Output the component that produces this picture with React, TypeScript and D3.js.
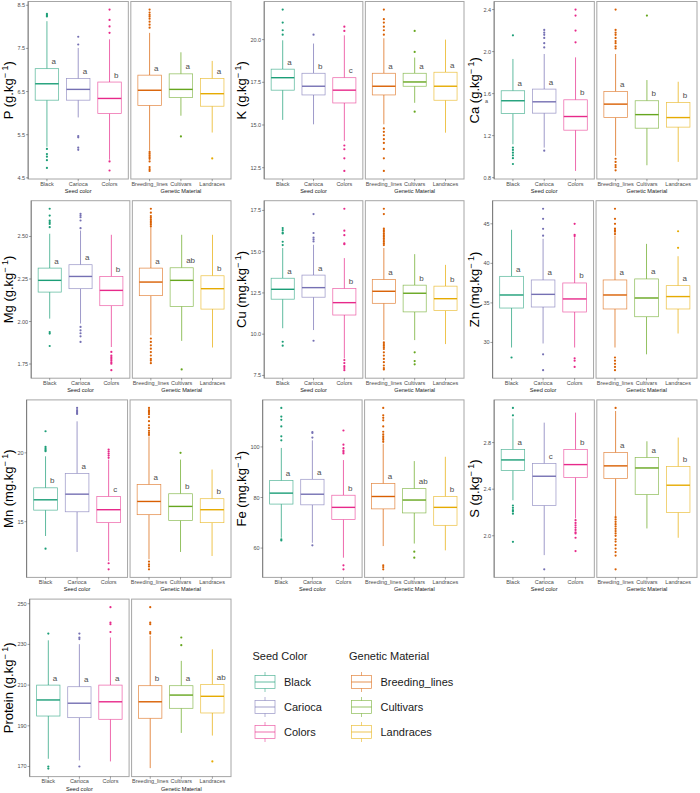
import React from 'react';
import * as d3 from 'd3';

// ---------- categories & colours ----------
const seedCategories = ['Black', 'Carioca', 'Colors'];
const geneticCategories = ['Breeding_lines', 'Cultivars', 'Landraces'];
const seedColors = ['#1B9E77', '#7570B3', '#E7298A'];
const geneticColors = ['#D95F02', '#66A61E', '#E6AB02'];
const seedLegendLabels = ['Black', 'Carioca', 'Colors'];
const geneticLegendLabels = ['Breeding_lines', 'Cultivars', 'Landraces'];

// stats = [lower whisker, Q1, median, Q3, upper whisker]
// ---------- P ----------
const pSeedStats = [[5.22, 6.30, 6.68, 7.03, 8.13], [5.90, 6.30, 6.55, 6.80, 7.51], [4.92, 5.99, 6.34, 6.72, 7.71]];
const pSeedOutliers = [[8.30, 8.27, 8.24, 5.17, 5.05, 4.99, 4.91, 4.73], [7.77, 7.59, 5.47, 5.44, 5.20, 5.15], [8.40, 8.16, 8.01, 7.86, 4.88, 4.67]];
const pGenStats = [[5.13, 6.18, 6.53, 6.88, 7.86], [5.94, 6.36, 6.55, 6.91, 7.41], [5.55, 6.16, 6.45, 6.80, 7.21]];
const pGenOutliers = [[8.40, 8.33, 8.28, 8.24, 8.19, 8.12, 8.05, 7.98, 5.10, 5.06, 5.02, 4.98, 4.94, 4.88, 4.75, 4.70, 4.66], [5.46], [4.95]];
const pSeedLetters = ['a', 'a', 'b'];
const pGenLetters = ['a', 'a', 'a'];
const pTicks = [4.5, 5.5, 6.5, 7.5, 8.5];

// ---------- K ----------
const kSeedStats = [[15.3, 17.04, 17.77, 18.27, 19.96], [15.04, 16.76, 17.27, 18.03, 19.77], [14.07, 16.29, 17.04, 17.77, 20.25]];
const kSeedOutliers = [[21.76, 21.0, 20.55, 20.29], [20.29], [20.76, 20.51, 13.8, 13.58, 13.05, 12.31]];
const kGenStats = [[15.04, 16.76, 17.27, 18.03, 20.08], [16.3, 17.27, 17.52, 18.03, 18.95], [14.55, 16.45, 17.27, 18.09, 20.0]];
const kGenOutliers = [[21.76, 21.2, 21.0, 20.76, 20.55, 20.29, 14.8, 14.6, 14.4, 14.17, 13.95, 13.6, 13.05, 12.31], [20.51, 19.28, 15.78], []];
const kSeedLetters = ['a', 'b', 'c'];
const kGenLetters = ['a', 'a', 'a'];
const kTicks = [12.5, 15, 17.5, 20];

// ---------- Ca ----------
const caSeedStats = [[1.118, 1.41, 1.532, 1.627, 1.93], [1.086, 1.414, 1.522, 1.643, 1.977], [0.864, 1.252, 1.382, 1.541, 1.945]];
const caSeedOutliers = [[2.155, 1.086, 1.064, 1.038, 1.013, 0.985, 0.93], [2.206, 2.18, 2.16, 2.13, 2.08, 2.04, 1.057], [2.4, 2.343, 2.2, 2.088]];
const caGenStats = [[1.007, 1.372, 1.50, 1.62, 1.977], [0.918, 1.271, 1.40, 1.532, 1.729], [0.95, 1.281, 1.372, 1.515, 1.713]];
const caGenOutliers = [[2.4, 2.206, 2.18, 2.16, 2.13, 2.10, 2.08, 2.05, 2.03, 0.98, 0.95, 0.92, 0.90, 0.87], [2.343], []];
const caSeedLetters = ['a', 'a', 'b'];
const caGenLetters = ['a', 'b', 'b'];
const caTicks = [0.8, 1.2, 1.6, 2.0, 2.4];

// ---------- Mg ----------
const mgSeedStats = [[2.017, 2.173, 2.242, 2.314, 2.516], [1.988, 2.193, 2.265, 2.334, 2.535], [1.85, 2.093, 2.183, 2.265, 2.51]];
const mgSeedOutliers = [[2.663, 2.623, 2.594, 2.584, 2.574, 2.555, 1.938, 1.929, 1.856], [2.633, 2.623, 2.613, 2.594, 2.549, 1.968, 1.948, 1.931, 1.913, 1.88], [1.821, 1.80, 1.79, 1.78, 1.77, 1.76, 1.752, 1.714]];
const mgGenStats = [[1.919, 2.152, 2.232, 2.314, 2.555], [1.886, 2.089, 2.242, 2.316, 2.51], [1.847, 2.073, 2.193, 2.269, 2.51]];
const mgGenOutliers = [[2.663, 2.64, 2.62, 2.61, 2.60, 2.59, 2.58, 2.57, 2.56, 1.90, 1.88, 1.86, 1.84, 1.82, 1.80, 1.78, 1.77, 1.755], [1.718], []];
const mgSeedLetters = ['a', 'a', 'b'];
const mgGenLetters = ['a', 'ab', 'b'];
const mgTicks = [1.75, 2.0, 2.25, 2.5];

// ---------- Cu ----------
const cuSeedStats = [[10.36, 12.12, 12.72, 13.39, 15.22], [10.25, 12.24, 12.82, 13.58, 15.42], [8.53, 11.16, 11.91, 12.76, 14.61]];
const cuSeedOutliers = [[16.43, 16.3, 16.15, 16.1, 15.6, 15.4, 9.54, 9.3], [17.28, 16.13, 15.86, 15.75, 15.62, 9.6], [17.6, 16.27, 16.0, 15.5, 15.45, 8.43, 8.25, 8.06, 7.95, 7.82]];
const cuGenStats = [[9.64, 11.87, 12.6, 13.31, 15.22], [9.64, 11.35, 12.48, 12.97, 14.85], [9.4, 11.43, 12.15, 12.91, 14.2]];
const cuGenOutliers = [[17.6, 17.28, 16.4, 16.3, 16.2, 16.1, 16.0, 15.9, 15.8, 15.7, 15.6, 15.5, 15.4, 9.5, 9.4, 9.3, 9.2, 9.1, 8.9, 8.7, 8.5, 8.3, 8.1, 7.95, 7.86], [8.9, 8.37, 8.17], []];
const cuSeedLetters = ['a', 'a', 'b'];
const cuGenLetters = ['a', 'b', 'b'];
const cuTicks = [7.5, 10, 12.5, 15, 17.5];

// ---------- Zn ----------
const znSeedStats = [[29.36, 34.35, 36.0, 38.36, 44.24], [29.87, 34.48, 36.08, 37.9, 43.1], [29.36, 33.85, 35.5, 37.52, 43.3]];
const znSeedOutliers = [[28.1], [46.9, 45.63, 44.37, 43.5, 28.5, 26.5], [45.0, 43.6, 43.45, 28.0, 27.7, 26.9]];
const znGenStats = [[29.36, 34.23, 36.0, 37.9, 43.5], [28.5, 33.25, 35.62, 38.03, 42.46], [31.13, 34.23, 35.8, 37.18, 40.9]];
const znGenOutliers = [[46.9, 45.63, 45.0, 44.4, 44.2, 44.0, 43.7, 28.1, 27.7, 27.3, 26.9, 26.5], [], [44.06, 41.96]];
const znSeedLetters = ['a', 'a', 'b'];
const znGenLetters = ['a', 'a', 'a'];
const znTicks = [30, 35, 40, 45];

// ---------- Mn ----------
const mnSeedStats = [[13.96, 15.84, 16.59, 17.46, 19.75], [12.8, 15.72, 17.0, 18.5, 22.29], [12.14, 14.93, 15.87, 16.83, 19.51]];
const mnSeedOutliers = [[21.57, 20.43, 20.3, 20.2, 20.12, 13.04], [23.26, 23.1, 23.0, 22.9, 22.83], [20.24, 20.1, 19.95, 19.8, 19.64, 11.98, 11.54]];
const mnGenStats = [[12.27, 15.51, 16.47, 17.7, 21.2], [12.8, 15.09, 16.11, 17.03, 19.51], [12.51, 14.93, 15.87, 16.67, 18.79]];
const mnGenOutliers = [[23.26, 23.1, 23.0, 22.9, 22.8, 22.6, 22.3, 22.0, 21.8, 21.6, 21.45, 21.3, 12.1, 11.9, 11.75, 11.54], [20.0], []];
const mnSeedLetters = ['b', 'a', 'c'];
const mnGenLetters = ['a', 'b', 'b'];
const mnTicks = [15, 20];

// ---------- Fe ----------
const feSeedStats = [[64.1, 77.4, 81.73, 86.67, 99.6], [62.1, 77.1, 81.3, 87.2, 102.6], [56.2, 71.3, 76.1, 80.9, 94.8]];
const feSeedOutliers = [[115.4, 112, 110.7, 108.1, 104.2, 102.6, 63.5, 63.0], [105.9, 105.5, 103.7, 61.1], [106.5, 100.9, 99.5, 98.5, 98.0, 97.4, 53.2, 51.6]];
const feGenStats = [[60.8, 75.5, 80.4, 85.5, 101.3], [61.8, 73.9, 79.0, 83.5, 94.4], [59.1, 69.0, 76.1, 80.4, 96.1]];
const feGenOutliers = [[115.4, 112.5, 111.5, 110.5, 108.1, 106, 105, 104.2, 103.5, 102.8, 102, 53.2, 52.5, 51.6], [58.6, 56.2], []];
const feSeedLetters = ['a', 'a', 'b'];
const feGenLetters = ['a', 'ab', 'b'];
const feTicks = [60, 80, 100];

// ---------- S ----------
const sSeedStats = [[2.305, 2.56, 2.651, 2.74, 3.006], [1.834, 2.26, 2.511, 2.62, 2.971], [2.149, 2.5, 2.611, 2.74, 3.057]];
const sSeedOutliers = [[3.097, 3.034, 2.26, 2.24, 2.22, 2.21, 2.19, 1.948], [1.712], [2.134, 2.11, 2.09, 2.07, 2.05, 2.03, 2.02, 1.983, 1.869]];
const sGenStats = [[2.168, 2.491, 2.6, 2.714, 3.071], [2.063, 2.354, 2.582, 2.671, 2.811], [1.983, 2.2, 2.434, 2.594, 2.843]];
const sGenOutliers = [[3.097, 2.16, 2.14, 2.12, 2.10, 2.08, 2.06, 2.04, 2.02, 2.0, 1.97, 1.95, 1.92, 1.89, 1.86, 1.83, 1.712], [], []];
const sSeedLetters = ['a', 'c', 'b'];
const sGenLetters = ['a', 'a', 'b'];
const sTicks = [2.0, 2.4, 2.8];

// ---------- Protein ----------
const protSeedStats = [[173.8, 194.8, 202.7, 210.0, 232.0], [173, 194.0, 201.1, 209.2, 230.1], [172.5, 193.2, 201.8, 210, 233.4]];
const protSeedOutliers = [[235.3, 170, 169], [235.3, 233.4, 232.6, 170], [248.3, 240.7, 239.9, 236.1]];
const protGenStats = [[169.2, 193.7, 201.8, 209.7, 234.2], [186.5, 198.6, 205.1, 209.7, 221.9], [185.2, 196.3, 204.5, 210.3, 227.6]];
const protGenOutliers = [[248.3, 240.7, 239.9, 236.1, 235.3], [233.4, 229.6], [172.5]];
const protSeedLetters = ['a', 'a', 'a'];
const protGenLetters = ['b', 'a', 'ab'];
const protTicks = [170, 190, 210, 230, 250];

const nutrientNames = ['P', 'K', 'Ca', 'Mg', 'Cu', 'Zn', 'Mn', 'Fe', 'S', 'Protein'];
const nutrientUnits = ['g', 'g', 'g', 'g', 'mg', 'mg', 'mg', 'mg', 'g', 'g'];
const tickFormats = ['.1f', '.1f', '.1f', '.2f', '.1f', 'd', 'd', 'd', '.1f', 'd'];

const nutrients = [
  { seed: pSeedStats, seedOut: pSeedOutliers, gen: pGenStats, genOut: pGenOutliers, seedL: pSeedLetters, genL: pGenLetters, ticks: pTicks },
  { seed: kSeedStats, seedOut: kSeedOutliers, gen: kGenStats, genOut: kGenOutliers, seedL: kSeedLetters, genL: kGenLetters, ticks: kTicks },
  { seed: caSeedStats, seedOut: caSeedOutliers, gen: caGenStats, genOut: caGenOutliers, seedL: caSeedLetters, genL: caGenLetters, ticks: caTicks },
  { seed: mgSeedStats, seedOut: mgSeedOutliers, gen: mgGenStats, genOut: mgGenOutliers, seedL: mgSeedLetters, genL: mgGenLetters, ticks: mgTicks },
  { seed: cuSeedStats, seedOut: cuSeedOutliers, gen: cuGenStats, genOut: cuGenOutliers, seedL: cuSeedLetters, genL: cuGenLetters, ticks: cuTicks },
  { seed: znSeedStats, seedOut: znSeedOutliers, gen: znGenStats, genOut: znGenOutliers, seedL: znSeedLetters, genL: znGenLetters, ticks: znTicks },
  { seed: mnSeedStats, seedOut: mnSeedOutliers, gen: mnGenStats, genOut: mnGenOutliers, seedL: mnSeedLetters, genL: mnGenLetters, ticks: mnTicks },
  { seed: feSeedStats, seedOut: feSeedOutliers, gen: feGenStats, genOut: feGenOutliers, seedL: feSeedLetters, genL: feGenLetters, ticks: feTicks },
  { seed: sSeedStats, seedOut: sSeedOutliers, gen: sGenStats, genOut: sGenOutliers, seedL: sSeedLetters, genL: sGenLetters, ticks: sTicks },
  { seed: protSeedStats, seedOut: protSeedOutliers, gen: protGenStats, genOut: protGenOutliers, seedL: protSeedLetters, genL: protGenLetters, ticks: protTicks },
].map((d, i) => ({ ...d, name: nutrientNames[i], unit: nutrientUnits[i], fmt: tickFormats[i] }));

const FONT = '"Liberation Sans", Arial, Helvetica, sans-serif';
const TICK_FS = 5.5;
const PANEL_H = 177.5;
const CELL_W = 233;

function textWidth(s: string, fs: number) {
  let w = 0;
  for (const c of s) w += c === '.' ? 0.278 : 0.556;
  return w * fs;
}

function Facet({ x0, width, yScale, cats, colors, stats, outliers, letters, title, top }: any) {
  const xs = d3.scalePoint<string>().domain(cats).range([x0, x0 + width]).padding(0.6);
  const bw = xs.step() * 0.75;
  const bottom = top + PANEL_H;
  return (
    <g>
      <rect x={x0} y={top} width={width} height={PANEL_H} fill="white" stroke="#a6a6a6" strokeWidth={1} />
      {cats.map((c: string, i: number) => {
        const cx = xs(c) as number;
        const [lw, q1, med, q3, uw] = stats[i];
        const col = colors[i];
        return (
          <g key={c}>
            <line x1={cx} x2={cx} y1={yScale(q3)} y2={yScale(uw)} stroke={col} strokeWidth={0.7} />
            <line x1={cx} x2={cx} y1={yScale(q1)} y2={yScale(lw)} stroke={col} strokeWidth={0.7} />
            <rect x={cx - bw / 2} y={yScale(q3)} width={bw} height={yScale(q1) - yScale(q3)} fill="white" stroke={col} strokeWidth={0.7} strokeOpacity={0.75} />
            <line x1={cx - bw / 2} x2={cx + bw / 2} y1={yScale(med)} y2={yScale(med)} stroke={col} strokeWidth={1.4} />
            {outliers[i].map((v: number, j: number) => (
              <circle key={j} cx={cx} cy={yScale(v)} r={1.1} fill={col} />
            ))}
            <text x={cx + 4.5} y={yScale(q3) - 4.5} fontSize={8} fill="#4d4d4d" fontFamily={FONT}>{letters[i]}</text>
            <line x1={cx} x2={cx} y1={bottom} y2={bottom + 2.2} stroke="#444" strokeWidth={0.5} />
            <text x={cx} y={bottom + 6.8} fontSize={TICK_FS} fill="#4d4d4d" textAnchor="middle" fontFamily={FONT}>{c}</text>
          </g>
        );
      })}
      <text x={x0 + width / 2} y={bottom + 14} fontSize={5.6} fill="#1a1a1a" textAnchor="middle" fontFamily={FONT}>{title}</text>
    </g>
  );
}

function Plot({ nut, cellX, top }: any) {
  const all: number[] = [];
  [...nut.seed, ...nut.gen].forEach((s: number[]) => all.push(...s));
  [...nut.seedOut, ...nut.genOut].forEach((s: number[]) => all.push(...s));
  const [lo, hi] = d3.extent(all) as [number, number];
  const pad = (hi - lo) * 0.05;
  const yScale = d3.scaleLinear().domain([lo - pad, hi + pad]).range([top + PANEL_H, top]);
  const fmt = d3.format(nut.fmt);
  const labelW = Math.max(...nut.ticks.map((t: number) => textWidth(fmt(t), TICK_FS)));
  const left = cellX + 17 + labelW + 3.5;
  const right = cellX + 231;
  const gap = 2.5;
  const fw = (right - left - gap) / 2;
  const midY = top + PANEL_H / 2;
  return (
    <g>
      <Facet x0={left} width={fw} yScale={yScale} cats={seedCategories} colors={seedColors} stats={nut.seed} outliers={nut.seedOut} letters={nut.seedL} title="Seed color" top={top} />
      <Facet x0={left + fw + gap} width={fw} yScale={yScale} cats={geneticCategories} colors={geneticColors} stats={nut.gen} outliers={nut.genOut} letters={nut.genL} title="Genetic Material" top={top} />
      <line x1={left} x2={left} y1={top} y2={top + PANEL_H} stroke="#555" strokeWidth={0.6} />
      {nut.ticks.map((t: number) => (
        <g key={t}>
          <line x1={left - 2.2} x2={left} y1={yScale(t)} y2={yScale(t)} stroke="#444" strokeWidth={0.5} />
          <text x={left - 3} y={yScale(t) + 2} fontSize={TICK_FS} fill="#4d4d4d" textAnchor="end" fontFamily={FONT}>{fmt(t)}</text>
        </g>
      ))}
      <text transform={`translate(${cellX + 12.5},${midY}) rotate(-90)`} fontSize={13} textAnchor="middle" fill="#000" fontFamily={FONT}>
        {`${nut.name} (${nut.unit}.kg`}
        <tspan dy={-5} fontSize={9}>{'\u2212 1'}</tspan>
        <tspan dy={5}>)</tspan>
      </text>
    </g>
  );
}

function LegendBlock({ x, y, title, labels, colors }: any) {
  return (
    <g>
      <text x={x} y={y} fontSize={11} fill="#1a1a1a" fontFamily={FONT}>{title}</text>
      {labels.map((l: string, i: number) => {
        const cy = y + 22 + i * 25;
        const kx = x + 2.5;
        return (
          <g key={l}>
            <line x1={kx + 10} x2={kx + 10} y1={cy - 10} y2={cy + 10} stroke={colors[i]} strokeWidth={0.7} strokeOpacity={0.75} />
            <rect x={kx} y={cy - 6.5} width={20} height={13} fill="white" stroke={colors[i]} strokeWidth={0.7} strokeOpacity={0.75} />
            <line x1={kx} x2={kx + 20} y1={cy} y2={cy} stroke={colors[i]} strokeWidth={0.8} strokeOpacity={0.85} />
            <text x={kx + 29} y={cy + 4} fontSize={11} fill="#1a1a1a" fontFamily={FONT}>{l}</text>
          </g>
        );
      })}
    </g>
  );
}

export default function App() {
  return (
    <svg width={700} height={793} style={{ position: 'absolute', left: 0, top: 0, background: 'white' }}>
      <rect x={0} y={0} width={700} height={793} fill="white" />
      {nutrients.map((nut, i) => {
        const col = i % 3;
        const row = Math.floor(i / 3);
        return <Plot key={nut.name} nut={nut} cellX={col * CELL_W} top={1.5 + row * 199.2} />;
      })}
      <text x={485} y={103} fontSize={5.5} fill="#4d4d4d" fontFamily={FONT}>a</text>
      <LegendBlock x={252.5} y={660} title="Seed Color" labels={seedLegendLabels} colors={seedColors} />
      <LegendBlock x={349} y={660} title="Genetic Material" labels={geneticLegendLabels} colors={geneticColors} />
    </svg>
  );
}
